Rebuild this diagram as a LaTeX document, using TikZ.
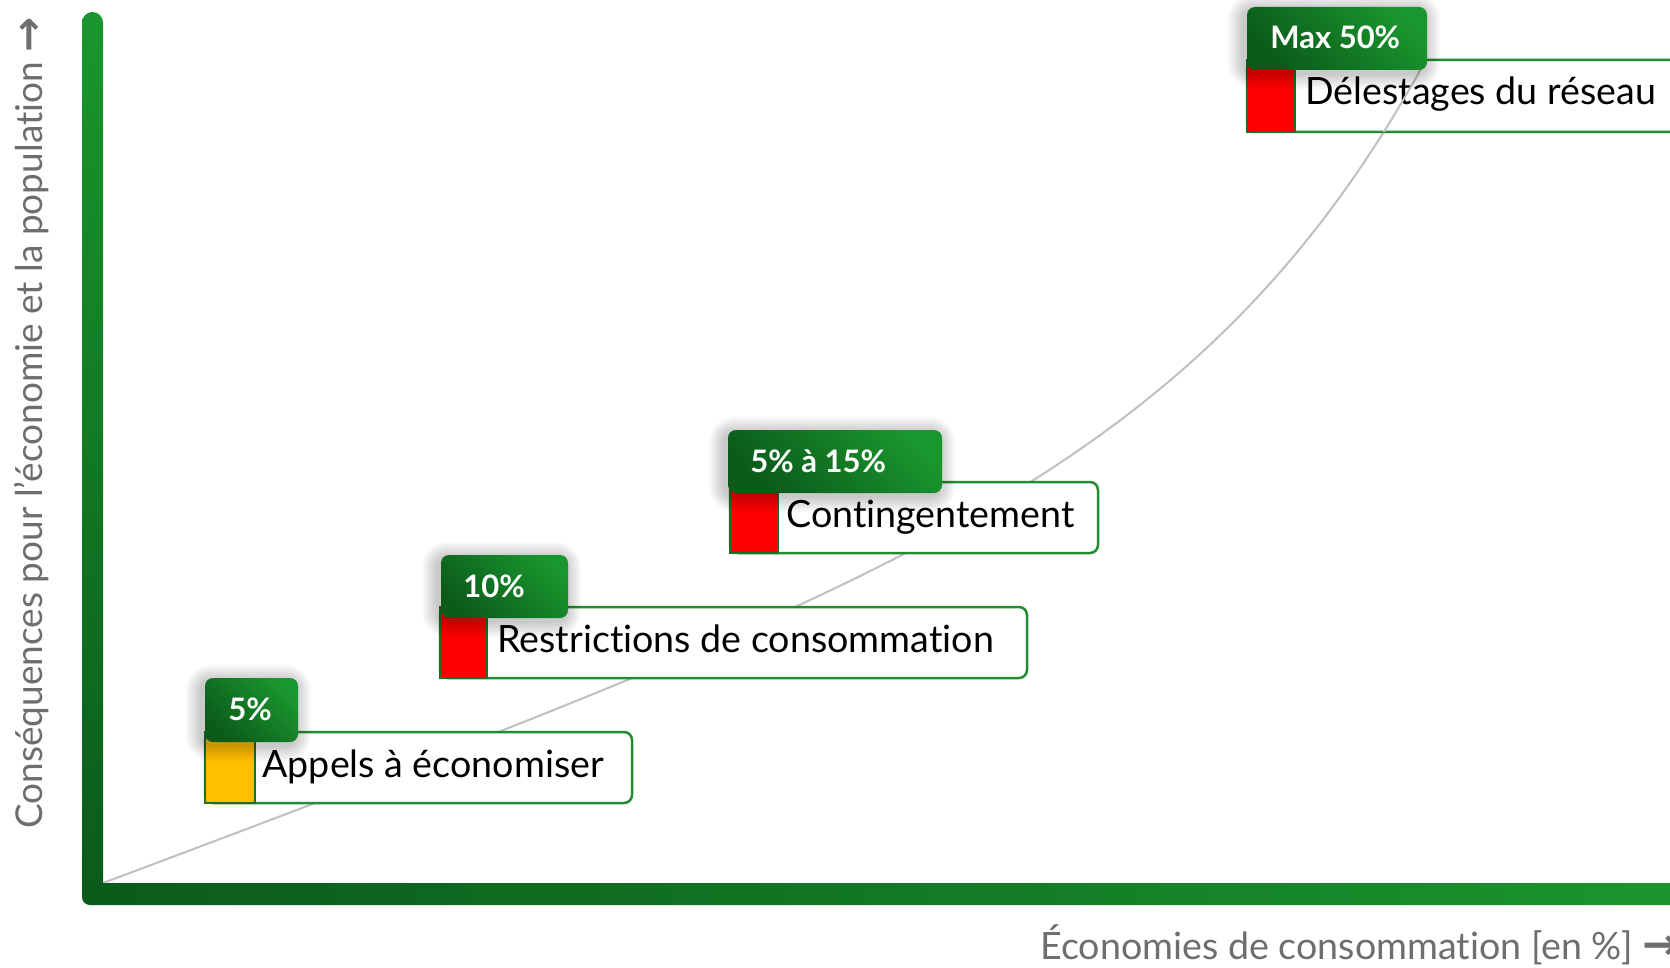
\documentclass[tikz,border=0pt]{standalone}
\usepackage{fontspec}
\setmainfont{Lato}[Ligatures=CommonOff]
\newfontfamily\arrowfont{DejaVu Sans}
\definecolor{gdark}{HTML}{0B5A1A}
\definecolor{gbright}{HTML}{1A962E}
\definecolor{gborder}{HTML}{238B30}
\definecolor{sqborder}{HTML}{1E6E28}
\definecolor{curvegray}{HTML}{C0C0C0}
\definecolor{axistext}{HTML}{6E6E6E}
\definecolor{warnred}{HTML}{FF0000}
\definecolor{warnyellow}{HTML}{FFC000}
\newcommand\lblshadow[4]{%
  \foreach \k in {1,...,9}{%
    \fill[black, opacity=0.022, rounded corners={4pt+\k*1pt}]
      ({#1-3-\k*1.8},{#2+3-\k*1.8}) rectangle ({#3-3+\k*1.8},{#4+3+\k*1.8});
  }%
}
\newcommand\growthcurve{%
  \draw[curve] plot[domain=0:1321, samples=160, smooth]
    ({\x+103},{883-0.37*\x-(exp(0.0044*\x)-1)});%
}
\begin{document}
\begin{tikzpicture}[x=0.5pt,y=-0.5pt,
  lblbox/.style={top color=gbright, bottom color=gdark, shading angle=-45,
    rounded corners=4pt},
  mainbox/.style={draw=gborder, line width=1.25pt, fill=white, rounded corners=4pt},
  colsq/.style={draw=sqborder, line width=1pt},
  maintext/.style={font=\fontsize{18.8pt}{21pt}\selectfont, text=black, inner sep=0pt, anchor=base west},
  lbltext/.style={font=\bfseries\fontsize{15.5pt}{17pt}\selectfont, text=white, inner sep=0pt, anchor=base west},
  axistxt/.style={font=\fontsize{18.8pt}{21pt}\selectfont, text=axistext, inner sep=0pt, anchor=base west},
  curve/.style={draw=curvegray, line width=1pt}
]
\useasboundingbox (0,0) rectangle (1670,968);
\clip (0,0) rectangle (1670,968);
\fill[white] (0,0) rectangle (1670,968);

% growth curve
\growthcurve

% axes
\shade[top color=gbright, bottom color=gdark, rounded corners=5.25pt] (82,12) rectangle (103,905);
\shade[left color=gdark, right color=gbright, rounded corners=4pt] (82,883) rectangle (1680,905);

% box 1 : Appels
\path[mainbox] (205,732) rectangle (632,803);
\path[colsq, fill=warnyellow] (205,732) rectangle (255,803);
\node[maintext] (t1) at (262,777) {Appels à économiser};
\lblshadow{205}{678}{298}{742}
\path[lblbox] (205,678) rectangle (298,742);
\node[lbltext] (l1) at (228,720) {5\%};

% box 2 : Restrictions
\path[mainbox] (440,607) rectangle (1027,678);
\path[colsq, fill=warnred] (440,607) rectangle (487,678);
\node[maintext] (t2) at (497,652) {Restrictions de consommation};
\lblshadow{441}{555}{568}{618}
\path[lblbox] (441,555) rectangle (568,618);
\node[lbltext] (l2) at (463,597) {10\%};

% box 3 : Contingentement
\path[mainbox] (730,482) rectangle (1098,553);
\path[colsq, fill=warnred] (730,482) rectangle (778,553);
\node[maintext] (t3) at (786,527) {Contingentement};
\lblshadow{728}{430}{942}{493}
\path[lblbox] (728,430) rectangle (942,493);
\node[lbltext] (l3) at (750,472) {5\% à 15\%};

% box 4 : Delestages
\path[mainbox] (1247,60) rectangle (1700,132);
\path[colsq, fill=warnred] (1247,60) rectangle (1295,132);
\node[maintext] (t4) at (1305,105) {Délestages du réseau};
\begin{scope}
  \clip (1247,60) rectangle (1700,132);
  \growthcurve
\end{scope}
\lblshadow{1247}{7}{1427}{70}
\path[lblbox] (1247,7) rectangle (1427,70);
\node[lbltext] (l4) at (1270,49) {Max 50\%};

% axis labels
\node[axistxt, rotate=90, font=\fontsize{18.5pt}{21pt}\selectfont] (ylab) at (42,829) {Conséquences pour l’économie et la population {\arrowfont\bfseries\fontsize{21pt}{21pt}\selectfont →}};
\node[axistxt] (xlab) at (1040,959) {Économies de consommation [en \%] {\arrowfont\bfseries\fontsize{22pt}{22pt}\selectfont →}};
\end{tikzpicture}
\end{document}
